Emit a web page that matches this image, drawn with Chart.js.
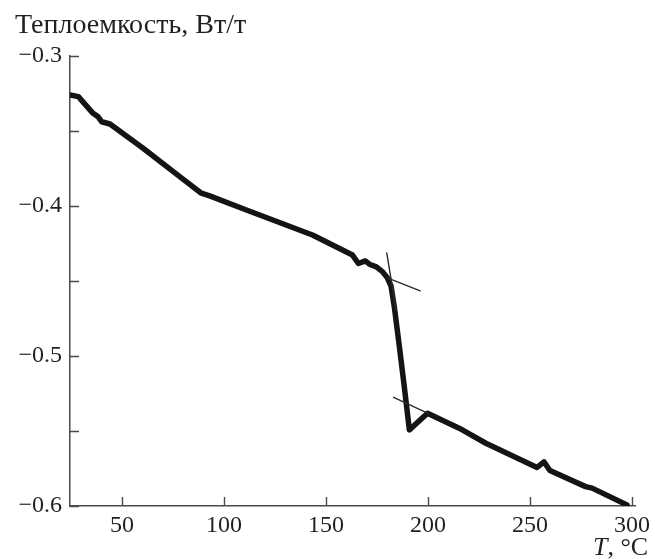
<!DOCTYPE html>
<html lang="ru">
<head>
<meta charset="utf-8">
<title>Теплоемкость</title>
<script src="https://cdn.jsdelivr.net/npm/chart.js@4/dist/chart.umd.min.js"></script>
<style>
  html, body { margin: 0; padding: 0; background: #fff; }
  #chartContainer { width: 655px; height: 559px; }
</style>
</head>
<body>
<div id="chartContainer"><canvas id="dscChart" width="655" height="559"></canvas></div>
<script>
// DSC trace: temperature, °C and heat flow, W/g
const tempC = [24.5, 28.6, 35.8, 38.2, 40.0, 44.1, 60.2, 78.3, 88.9, 93.0, 111.0, 143.4, 163.0, 165.9, 169.3, 171.3, 174.7, 177.8, 180.1, 181.9, 183.5, 186.0, 188.4, 190.9, 199.8, 215.3, 228.4, 253.5, 256.9, 259.8, 277.3, 280.5, 297.6];
const heatFlow = [-0.3263, -0.3274, -0.3385, -0.3407, -0.3441, -0.3456, -0.3616, -0.3807, -0.3917, -0.3935, -0.4029, -0.4195, -0.4329, -0.4385, -0.4368, -0.4390, -0.4408, -0.4441, -0.4481, -0.4535, -0.4672, -0.4939, -0.5205, -0.5493, -0.5382, -0.5482, -0.5582, -0.5743, -0.5706, -0.5764, -0.5871, -0.5881, -0.5993];

// construction lines for the step onset / end
const baseUpperT = [180.1, 196.2];
const baseUpperQ = [-0.4481, -0.4567];
const stepTangentT = [179.8, 184.4];
const stepTangentQ = [-0.4315, -0.4694];
const baseLowerT = [183.2, 200.6];
const baseLowerQ = [-0.5276, -0.5387];

const xTicks = [50, 100, 150, 200, 250, 300];
const yTicks = [-0.6, -0.55, -0.5, -0.45, -0.4, -0.35, -0.3];

const fontFamily = "'Liberation Serif', 'Times New Roman', serif";
const textColor = "#231f20";
const axisColor = "#4a4a4a";

function toPoints(xs, ys) {
  return xs.map((x, i) => ({ x: x, y: ys[i] }));
}

function formatY(v) {
  if (Math.round(v * 100) % 10 !== 0) return "";
  return (v < 0 ? "\u2212" : "") + Math.abs(v).toFixed(1);
}

// ticks point into the plot area, so draw them by hand
const inwardTicks = {
  id: "inwardTicks",
  afterDraw(chart) {
    const { ctx, chartArea, scales } = chart;
    const len = 9;
    ctx.save();
    ctx.strokeStyle = axisColor;
    ctx.lineWidth = 1.4;
    ctx.beginPath();
    xTicks.forEach((v) => {
      const px = Math.round(scales.x.getPixelForValue(v)) + 0.5;
      ctx.moveTo(px, chartArea.bottom);
      ctx.lineTo(px, chartArea.bottom - len);
    });
    yTicks.forEach((v) => {
      const py = Math.round(scales.y.getPixelForValue(v)) + 0.5;
      ctx.moveTo(chartArea.left, py);
      ctx.lineTo(chartArea.left + len, py);
    });
    ctx.stroke();

    // axis captions
    ctx.fillStyle = textColor;
    ctx.textBaseline = "alphabetic";
    ctx.textAlign = "left";
    ctx.font = "28px " + fontFamily;
    ctx.fillText("Теплоемкость, Вт/т", 15, 33);

    ctx.font = "italic 26px " + fontFamily;
    const tx = 593;
    ctx.fillText("T", tx, 555);
    const tw = ctx.measureText("T").width;
    ctx.font = "26px " + fontFamily;
    ctx.fillText(", \u00B0C", tx + tw, 555);
    ctx.restore();
  },
};

const lineStyle = {
  showLine: true,
  pointRadius: 0,
  tension: 0,
  fill: false,
  borderJoinStyle: "round",
  borderCapStyle: "round",
};

new Chart(document.querySelector("#dscChart"), {
  type: "scatter",
  data: {
    datasets: [
      {
        ...lineStyle,
        data: toPoints(baseUpperT, baseUpperQ),
        borderColor: "#2a2a2a",
        borderWidth: 1.4,
      },
      {
        ...lineStyle,
        data: toPoints(stepTangentT, stepTangentQ),
        borderColor: "#2a2a2a",
        borderWidth: 1.4,
      },
      {
        ...lineStyle,
        data: toPoints(baseLowerT, baseLowerQ),
        borderColor: "#2a2a2a",
        borderWidth: 1.4,
      },
      {
        ...lineStyle,
        data: toPoints(tempC, heatFlow),
        borderColor: "#141414",
        borderWidth: 5.5,
      },
    ],
  },
  options: {
    responsive: false,
    animation: false,
    devicePixelRatio: 1,
    layout: { padding: { top: 55.5, right: 19, left: 0, bottom: 0 } },
    plugins: {
      legend: { display: false },
      tooltip: { enabled: false },
    },
    scales: {
      x: {
        type: "linear",
        min: 24.5,
        max: 301.6,
        afterBuildTicks: (scale) => {
          scale.ticks = xTicks.map((v) => ({ value: v }));
        },
        afterFit: (scale) => {
          scale.height = 53;
        },
        grid: { display: false, drawTicks: false },
        border: { display: true, color: axisColor, width: 1.5 },
        ticks: {
          color: textColor,
          padding: 5,
          maxRotation: 0,
          font: { family: fontFamily, size: 24 },
          callback: (v) => String(v),
        },
      },
      y: {
        type: "linear",
        min: -0.6,
        max: -0.3,
        afterBuildTicks: (scale) => {
          scale.ticks = yTicks.map((v) => ({ value: v }));
        },
        afterFit: (scale) => {
          scale.width = 70;
        },
        grid: { display: false, drawTicks: false },
        border: { display: true, color: axisColor, width: 1.5 },
        ticks: {
          color: textColor,
          padding: 8,
          font: { family: fontFamily, size: 24 },
          callback: (v) => formatY(v),
        },
      },
    },
  },
  plugins: [inwardTicks],
});
</script>
</body>
</html>
